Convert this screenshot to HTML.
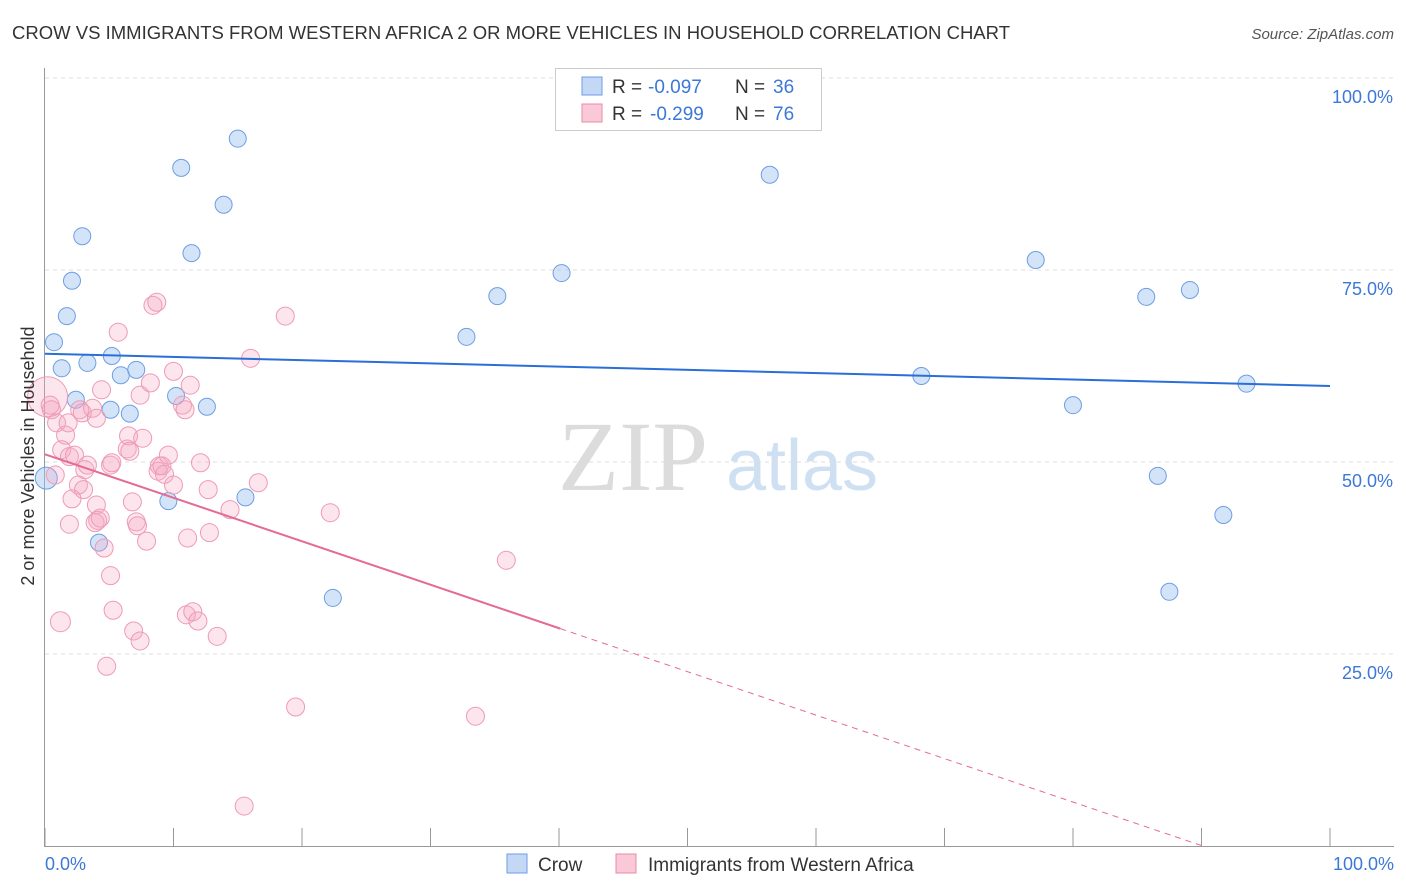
<!DOCTYPE html>
<html><head><meta charset="utf-8"><style>
body{margin:0;background:#fff;font-family:"Liberation Sans",sans-serif}
#wrap{position:relative;width:1406px;height:892px;overflow:hidden}
</style></head><body>
<div id="wrap">
<svg id="svg" width="1406" height="892">
<text x="12" y="39" font-size="18" fill="#333" textLength="998" lengthAdjust="spacingAndGlyphs">CROW VS IMMIGRANTS FROM WESTERN AFRICA 2 OR MORE VEHICLES IN HOUSEHOLD CORRELATION CHART</text>
<text x="1394" y="39" font-size="15" fill="#555" font-style="italic" text-anchor="end">Source: ZipAtlas.com</text>
<text x="633" y="490" font-size="100" fill="#dcdcdc" font-family="Liberation Serif" text-anchor="middle">ZIP</text>
<text x="802" y="490" font-size="72" fill="#cfe0f3" text-anchor="middle">atlas</text>
<g id="grid"></g><g id="marks"></g><g id="lines"></g>
<text transform="translate(34,456) rotate(-90)" font-size="18" fill="#333" text-anchor="middle">2 or more Vehicles in Household</text>
<text x="45" y="870" font-size="18" fill="#3b78d8">0.0%</text>
<text x="1394" y="870" font-size="18" fill="#3b78d8" text-anchor="end">100.0%</text>
<g>
<rect x="555.5" y="68.5" width="266" height="62" fill="#fff" stroke="#ccc"/>
<rect x="582" y="77" width="20" height="18" fill="#c4d8f5" stroke="#6d9ee3"/>
<rect x="582" y="104" width="20" height="18" fill="#f9c9d8" stroke="#e88aa8"/>
<g font-size="19">
<text x="612" y="93" fill="#333">R =</text><text x="648" y="93" fill="#3b78d8">-0.097</text>
<text x="735" y="93" fill="#333">N =</text><text x="773" y="93" fill="#3b78d8">36</text></g>
<g font-size="19">
<text x="612" y="120" fill="#333">R =</text><text x="650" y="120" fill="#3b78d8">-0.299</text>
<text x="735" y="120" fill="#333">N =</text><text x="773" y="120" fill="#3b78d8">76</text></g>
</g>
<g>
<rect x="507" y="854" width="20" height="19" fill="#c4d8f5" stroke="#6d9ee3"/>
<text x="538" y="871" font-size="19" fill="#333">Crow</text>
<rect x="616" y="854" width="20" height="19" fill="#f9c9d8" stroke="#e88aa8"/>
<text x="648" y="871" font-size="19" fill="#333">Immigrants from Western Africa</text>
</g>
</svg>
</div>
<script>
const yTicks=[25,50,75,100];
const yTickLabels=["25.0%","50.0%","75.0%","100.0%"];
const xTicks=[0,10,20,30,40,50,60,70,80,90,100];
const crowX=[0.1,0.7,1.3,1.7,2.1,2.4,2.9,3.3,4.2,5.1,5.2,5.9,6.6,7.1,9.6,10.2,10.6,11.4,12.6,13.9,15.0,15.6,22.4,32.8,35.2,40.2,56.4,68.2,77.1,80.0,85.7,86.6,87.5,89.1,91.7,93.5];
const crowY=[47.9,65.6,62.2,69.0,73.6,58.1,79.4,62.9,39.5,56.8,63.8,61.3,56.3,62.0,44.9,58.6,88.3,77.2,57.2,83.5,92.1,45.4,32.3,66.3,71.6,74.6,87.4,61.2,76.3,57.4,71.5,48.2,33.1,72.4,43.1,60.2];
const immX=[0.2,0.4,0.5,0.9,0.8,1.6,1.8,1.3,1.9,2.3,2.7,2.9,3.1,3.3,2.6,3.0,2.1,1.9,3.7,4.0,4.4,4.0,4.1,3.9,4.3,4.6,5.1,5.3,4.8,1.2,5.1,5.2,5.7,6.4,6.5,6.6,6.8,7.1,7.2,7.4,7.6,7.9,8.2,8.4,8.7,8.8,8.9,9.1,9.3,9.6,10.0,10.0,10.7,10.9,11.3,11.1,11.0,11.5,11.9,12.1,12.7,12.8,13.4,14.4,15.5,16.0,16.6,18.7,19.5,22.2,33.5,35.9,6.9,7.4];
const immY=[58.5,57.4,56.8,55.1,48.3,53.5,55.1,51.6,50.7,50.9,56.8,56.4,49.0,49.6,47.0,46.4,45.2,41.9,57.0,55.7,59.4,44.4,42.4,42.1,42.7,38.8,35.2,30.7,23.4,29.2,49.6,49.9,66.9,51.7,53.4,51.4,44.8,42.2,41.7,58.7,53.1,39.7,60.3,70.4,70.8,48.8,49.5,49.5,48.4,50.9,47.0,61.8,57.4,56.8,60.0,40.1,30.1,30.5,29.3,49.9,46.4,40.8,27.3,43.8,5.2,63.5,47.3,69.0,18.1,43.4,16.9,37.2,28.0,26.7];
const crowTrend=[64.1,59.9];   // y at x=0, x=100
const immTrend=[51.0,-0.566];  // intercept, slope
const immSolidEnd=40.1;
const NS="http://www.w3.org/2000/svg";
function sx(v){return 45+v*12.85;}
function sy(v){return 846-v*7.68;}
function mk(tag,attrs,parent){const e=document.createElementNS(NS,tag);for(const k in attrs)e.setAttribute(k,attrs[k]);parent.appendChild(e);return e;}
const grid=document.getElementById('grid'),marks=document.getElementById('marks'),lines=document.getElementById('lines');
yTicks.forEach((t,i)=>{
  const g=mk('line',{x1:45,x2:1394,y1:sy(t),y2:sy(t),stroke:'#ddd','stroke-dasharray':'4,4'},grid);
  
  
  const l=mk('text',{x:1393,y:sy(t)+25,'font-size':18,fill:'#3b78d8','text-anchor':'end'},grid);
  l.textContent=yTickLabels[i];
  
  
});
const ya=mk('line',{x1:44.5,x2:44.5,y1:68,y2:846,stroke:'#999'},grid);


const xa=mk('line',{x1:44,x2:1394,y1:846.5,y2:846.5,stroke:'#999'},grid);


xTicks.forEach(t=>{
  const k=mk('line',{x1:sx(t),x2:sx(t),y1:828,y2:846,stroke:'#999'},grid);
  
  
});
crowX.forEach((x,i)=>{
  const c=mk('circle',{cx:sx(x),cy:sy(crowY[i]),r:i===0?11:8.5,fill:'rgba(160,195,240,0.45)',stroke:'#6d9ee3','stroke-width':1},marks);
  
  
});
immX.forEach((x,i)=>{
  const c=mk('circle',{cx:sx(x),cy:sy(immY[i]),r:i===0?20:(i===29?10:9),fill:'rgba(245,170,195,0.3)',stroke:'#ee9ab6','stroke-width':1},marks);
  
  
});
const cl=mk('line',{x1:sx(0),y1:sy(crowTrend[0]),x2:sx(100),y2:sy(crowTrend[1]),stroke:'#2a6fd6','stroke-width':2},lines);


const pl=mk('line',{x1:sx(0),y1:sy(immTrend[0]),x2:sx(immSolidEnd),y2:sy(immTrend[0]+immTrend[1]*immSolidEnd),stroke:'#e56a94','stroke-width':2},lines);


const xEnd=-immTrend[0]/immTrend[1];
const pd=mk('line',{x1:sx(immSolidEnd),y1:sy(immTrend[0]+immTrend[1]*immSolidEnd),x2:sx(xEnd),y2:sy(0),stroke:'#e56a94','stroke-width':1,'stroke-dasharray':'6,5'},lines);


</script>
</body></html>
